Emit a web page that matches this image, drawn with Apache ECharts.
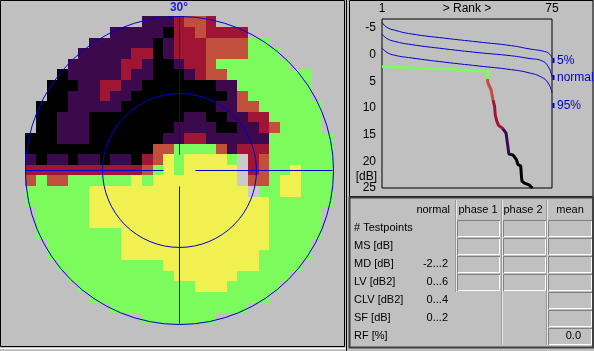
<!DOCTYPE html>
<html>
<head>
<meta charset="utf-8">
<script src="https://cdn.jsdelivr.net/npm/echarts@6.0.0/dist/echarts.min.js"></script>
<style>
  html, body { margin: 0; padding: 0; background: #c0c0c0; }
  #chart { width: 594px; height: 351px; }
</style>
</head>
<body>
<div id="chart"></div>
<script>
// field map: one string per row, one letter per cell
// g green, y yellow, o orange, r red, p purple, k black, l pale, . outside
const fieldRows = [
  "...........ppproor...........",
  "........pppppkrrorrrr........",
  "......ppppppkprrroooogg......",
  ".....ppppprrkprrrooooggg.....",
  "....ppppprrpkkprroggggggg....",
  "...kppppprppkkkproogggggggg...",
  "..kkkpprrppkkkkkkkppggggggg..",
  "..kkppprppkkkkkkkkkpogggggg..",
  ".kkkpppppkkkkkkkkkppoogggggg.",
  ".kkpppkkkkkkkkkppkkpprrggggg.",
  ".kkpppkkkkkkkkppppkkpprogggg.",
  "kkkpppkkkkkkkpprrppppppgggggg",
  "kkkkkkkkkkkkooggggoprrrgggggg",
  "pkppkppkppkroygyyyyglrogggggg",
  "rrrrrrrrrrrogygyyyyylroggyggg",
  "ogooggggggygyyyyyyyyloogyyggg",
  "ggggggyyyyyyyyyyyyyyylggyyggg",
  "ggggggyyyyyyyyyyyyyyyyygggggg",
  ".gggggyyyyyyyyyyyyyyyyyggggg.",
  ".gggggyyyyyyyyyyyyyyyyyggggg.",
  ".ggggggggyyyyyyyyyyyyyyggggg.",
  "..gggggggyyyyyyyyyyyyyygggg..",
  "..gggggggyyyyyyyyyyyyyggggg..",
  "...ggggggggggyyyyyyyyygggg...",
  "....ggggggggggyyyyyyggggg....",
  ".....gggggggggggyyyggggg.....",
  "......ggggggggggggggggg......",
  "........ggggggggggggg........",
  "...........ggggggg..........."
];
const fieldCodes = "gyorpkl";
const fieldColors = ["#7cfc5c", "#f0f050", "#c0503c", "#a01434", "#3c0a4c", "#000000", "#cacaca"];

// rank curve (Bebie), rank vs dB
const rankLower = [[1, -6.1], [2.9, -5.2], [6.5, -4.6], [13.8, -3.9], [28.3, -3.1], [42.8, -2.4], [57.3, -1.7], [65, -1.1], [71.8, -0.6], [74, -0.1], [75, 0.6]];
const rankNormal = [[1, -3.9], [2.9, -3.1], [6.5, -2.5], [13.8, -1.9], [28.3, -1.1], [42.8, -0.4], [57.3, 0.2], [65, 0.7], [70.4, 1.1], [73.3, 2.2], [75, 4.1]];
const rankUpper = [[1, -1.3], [2.9, -0.5], [6.5, 0.1], [13.8, 0.6], [28.3, 1.4], [42.8, 2.1], [57.3, 2.8], [65, 3.4], [70.4, 4.2], [73.3, 5.3], [75, 7.1]];
const rankPatient = [[1, 2.2], [6, 2.3], [14, 2.5], [22, 2.6], [32, 2.7], [35, 3.0], [47, 3.0], [47, 5.0],
  [47.2, 5.4], [48.5, 6.6], [49.3, 8.4], [50, 9.7], [50.3, 11.3], [51, 12.5], [51.8, 13.3], [53.5, 13.8],
  [55, 14.7], [55.5, 16.3], [55.8, 17.2], [56.2, 18.6], [58, 18.8], [59.5, 19.7], [60.2, 20.6], [61.4, 20.9],
  [61.6, 22.2], [61.9, 23.7], [63, 24.1], [65, 24.4], [66.5, 25]];
const rankLabels = ["5%", "normal", "95%"];
const rankLabelY = [61, 78, 106];

// indices table
const tableHeaders = ["normal", "phase 1", "phase 2", "mean"];
const rowLabels = ["# Testpoints", "MS [dB]", "MD [dB]", "LV [dB2]", "CLV [dB2]", "SF [dB]", "RF [%]"];
const normalRanges = ["", "", "-2...2", "0...6", "0...4", "0...2", ""];
const meanValues = ["", "", "", "", "", "", "0.0"];

const fieldData = [];
fieldRows.forEach((row, r) => {
  row = row.padEnd(29, ".").slice(0, 29);
  for (let c = 0; c < 29; c++) {
    const idx = fieldCodes.indexOf(row[c]);
    if (idx >= 0) fieldData.push([c, r, idx]);
  }
});

const chart = echarts.init(document.getElementById("chart"), null, { renderer: "canvas" });
const font = "'Liberation Sans', Arial, sans-serif";
const blue = "#0000d0";

function renderCell(params, api) {
  const a = api.coord([api.value(0), api.value(1)]);
  const b = api.coord([api.value(0) + 1, api.value(1) + 1]);
  const x0 = Math.round(Math.min(a[0], b[0])), x1 = Math.round(Math.max(a[0], b[0]));
  const y0 = Math.round(Math.min(a[1], b[1])), y1 = Math.round(Math.max(a[1], b[1]));
  return {
    type: "rect",
    shape: { x: x0, y: y0, width: x1 - x0, height: y1 - y0 },
    style: { fill: fieldColors[api.value(2)] }
  };
}

function renderCross(params, api) {
  const c = api.coord([api.value(0), api.value(1)]);
  const cx = Math.round(c[0]) + 0.5, cy = Math.round(c[1]) + 0.5;
  const rOut = api.size([14.53, 0])[0];
  const rIn = api.size([7.26, 0])[0];
  const top = api.coord([0, 0]), bot = api.coord([29, 29]);
  const ln = (x1, y1, x2, y2) => ({ type: "line", shape: { x1, y1, x2, y2 }, style: { stroke: blue, lineWidth: 1 } });
  return {
    type: "group",
    children: [
      { type: "circle", shape: { cx, cy, r: rOut }, style: { fill: null, stroke: blue, lineWidth: 1 } },
      { type: "circle", shape: { cx, cy, r: rIn }, style: { fill: null, stroke: blue, lineWidth: 1 } },
      ln(cx, top[1], cx, cy - 16), ln(cx, cy + 16, cx, bot[1]),
      ln(top[0], cy, cx - 16, cy), ln(cx + 16, cy, bot[0], cy)
    ]
  };
}

const graphics = [
  // panel frames
  { type: "rect", shape: { x: 0.5, y: 0.5, width: 344, height: 346 }, style: { fill: null, stroke: "#000", lineWidth: 1 } },
  { type: "line", shape: { x1: 0, y1: 348.5, x2: 346, y2: 348.5 }, style: { stroke: "#ffffff", lineWidth: 1 } },
  { type: "rect", shape: { x: 349.5, y: 0.5, width: 243.5, height: 196 }, style: { fill: null, stroke: "#000", lineWidth: 1 } },
  { type: "rect", shape: { x: 349.5, y: 197.5, width: 243.5, height: 150 }, style: { fill: null, stroke: "#404040", lineWidth: 2 } },
  { type: "line", shape: { x1: 346.5, y1: 0, x2: 346.5, y2: 351 }, style: { stroke: "#000", lineWidth: 1 } },
  { type: "text", style: { text: "30°", x: 179, y: 8, fill: "#2020e0", font: "bold 12px " + font, textAlign: "center", textVerticalAlign: "middle" } },
  { type: "text", style: { text: "[dB]", x: 377, y: 177, fill: "#000", font: "12px " + font, textAlign: "right", textVerticalAlign: "middle" } }
];

rankLabels.forEach((t, i) => {
  graphics.push({ type: "text", style: { text: t, x: 557, y: rankLabelY[i], fill: blue, font: "12px " + font, textAlign: "left", textVerticalAlign: "middle" } });
  graphics.push({ type: "line", shape: { x1: 553.5, y1: rankLabelY[i] - 3, x2: 553.5, y2: rankLabelY[i] + 2 }, style: { stroke: blue, lineWidth: 2 } });
});

// table
const headerX = [450, 478, 523, 570];
tableHeaders.forEach((t, i) => {
  graphics.push({ type: "text", style: { text: t, x: headerX[i], y: 210, fill: "#000", font: "11px " + font, textAlign: i === 0 ? "right" : "center", textVerticalAlign: "middle" } });
});
[[456, 292], [502, 345], [547, 345]].forEach(([x, yEnd]) => {
  graphics.push({ type: "line", shape: { x1: x + 0.5, y1: 200, x2: x + 0.5, y2: yEnd }, style: { stroke: "#e8e8e8", lineWidth: 1 } });
  graphics.push({ type: "line", shape: { x1: x - 0.5, y1: 200, x2: x - 0.5, y2: yEnd }, style: { stroke: "#9a9a9a", lineWidth: 1 } });
});
function cellBox(x, y, w, h) {
  graphics.push({ type: "polyline", shape: { points: [[x + 0.5, y + h], [x + 0.5, y + 0.5], [x + w, y + 0.5]] }, style: { stroke: "#808080", fill: null, lineWidth: 1 } });
  graphics.push({ type: "polyline", shape: { points: [[x + 1, y + h - 0.5], [x + w - 0.5, y + h - 0.5], [x + w - 0.5, y + 1]] }, style: { stroke: "#ffffff", fill: null, lineWidth: 1 } });
}
rowLabels.forEach((t, i) => {
  const yc = 228 + 18 * i;
  graphics.push({ type: "text", style: { text: t, x: 354, y: yc, fill: "#000", font: "11px " + font, textAlign: "left", textVerticalAlign: "middle" } });
  if (normalRanges[i]) {
    graphics.push({ type: "text", style: { text: normalRanges[i], x: 448, y: yc, fill: "#000", font: "11px " + font, textAlign: "right", textVerticalAlign: "middle" } });
  }
  const top = 220 + 18 * i;
  if (i < 4) {
    cellBox(457, top, 43, 17);
    cellBox(503, top, 43, 17);
  }
  cellBox(548, top, 44, 17);
  if (meanValues[i]) {
    graphics.push({ type: "text", style: { text: meanValues[i], x: 581, y: yc, fill: "#000", font: "11px " + font, textAlign: "right", textVerticalAlign: "middle" } });
  }
});

const option = {
  backgroundColor: "#c0c0c0",
  animation: false,
  grid: [
    { left: 25.3, top: 16.3, width: 307.4, height: 307.4, show: false, containLabel: false, outerBoundsMode: "none" },
    { left: 382, top: 19, width: 170, height: 169, show: true, borderColor: "#000", borderWidth: 1, backgroundColor: "transparent", containLabel: false, outerBoundsMode: "none" }
  ],
  xAxis: [
    { gridIndex: 0, type: "value", min: 0, max: 29, show: false },
    {
      gridIndex: 1, type: "value", min: 1, max: 75, interval: 74, position: "top",
      name: "> Rank >", nameLocation: "middle", nameGap: 4, nameMoveOverlap: false,
      nameTextStyle: { color: "#000", fontSize: 12, fontFamily: font, verticalAlign: "bottom" },
      axisLine: { show: false }, axisTick: { show: false }, splitLine: { show: false },
      axisLabel: { color: "#000", fontSize: 12, fontFamily: font, margin: 4 }
    }
  ],
  yAxis: [
    { gridIndex: 0, type: "value", min: 0, max: 29, inverse: true, show: false },
    {
      gridIndex: 1, type: "value", min: -6.7, max: 25, inverse: true,
      axisLine: { show: false }, axisTick: { show: false }, splitLine: { show: false },
      axisLabel: { color: "#000", fontSize: 12, fontFamily: font, margin: 6, showMinLabel: false }
    }
  ],
  visualMap: {
    type: "piecewise", show: false, seriesIndex: 5, dimension: 1,
    pieces: [
      { lt: 4.5, color: "#7cfc5c" },
      { gte: 4.5, lt: 8.5, color: "#c0503c" },
      { gte: 8.5, lt: 14, color: "#a01434" },
      { gte: 14, lt: 18.7, color: "#3c0a4c" },
      { gte: 18.7, color: "#000000" }
    ]
  },
  series: [
    { type: "custom", xAxisIndex: 0, yAxisIndex: 0, data: fieldData, renderItem: renderCell, silent: true },
    { type: "custom", xAxisIndex: 0, yAxisIndex: 0, data: [[14.5, 14.5]], renderItem: renderCross, silent: true, z: 5 },
    { type: "line", xAxisIndex: 1, yAxisIndex: 1, data: rankLower, smooth: true, showSymbol: false, lineStyle: { color: blue, width: 1 } },
    { type: "line", xAxisIndex: 1, yAxisIndex: 1, data: rankNormal, smooth: true, showSymbol: false, lineStyle: { color: blue, width: 1 } },
    { type: "line", xAxisIndex: 1, yAxisIndex: 1, data: rankUpper, smooth: true, showSymbol: false, lineStyle: { color: blue, width: 1 } },
    { type: "line", xAxisIndex: 1, yAxisIndex: 1, data: rankPatient, showSymbol: false, lineStyle: { width: 3 } }
  ],
  graphic: graphics
};

chart.setOption(option);
</script>
</body>
</html>
